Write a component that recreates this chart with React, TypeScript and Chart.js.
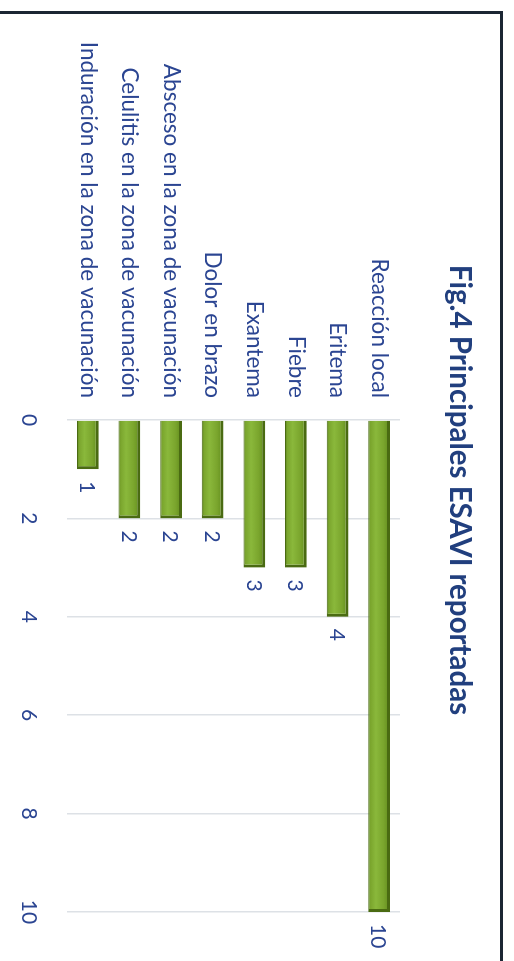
import React, { useEffect, useRef } from "react";
import { Chart, registerables } from "chart.js";

Chart.register(...registerables);

const categories = [
  "Reacción local",
  "Eritema",
  "Fiebre",
  "Exantema",
  "Dolor en brazo",
  "Absceso en la zona de vacunación",
  "Celulitis en la zona de vacunación",
  "Induración en la zona de vacunación",
];
const values = [10, 4, 3, 3, 2, 2, 2, 1];
const tickMin = 0;
const tickMax = 10;
const tickStep = 2;
const titleText = "Fig.4 Principales ESAVI reportadas";

const W = 961;
const H = 514;
const LABEL = "#2b4592";
const TITLE = "#213f7e";
const FONT = "Lato";

export default function App() {
  const ref = useRef<HTMLCanvasElement | null>(null);

  useEffect(() => {
    if (!ref.current) return;

    const valueLabels = {
      id: "valueLabels",
      afterDatasetsDraw(chart: any) {
        const ctx = chart.ctx;
        const meta = chart.getDatasetMeta(0);
        ctx.save();
        ctx.font = `21px ${FONT}`;
        ctx.fillStyle = LABEL;
        ctx.textAlign = "left";
        ctx.textBaseline = "middle";
        meta.data.forEach((bar: any, i: number) => {
          ctx.fillText(String(values[i]), bar.x + 12, bar.y + 1);
        });
        ctx.restore();
      },
    };

    const barFill = (c: any) => {
      const chart = c.chart;
      const yScale = chart.scales?.y;
      if (!yScale || c.dataIndex === undefined) return "#7ba62f";
      const yc = yScale.getPixelForValue(c.dataIndex);
      if (!Number.isFinite(yc)) return "#7ba62f";
      const g = chart.ctx.createLinearGradient(0, yc - 11, 0, yc + 11);
      g.addColorStop(0, "#5f8a1c");
      g.addColorStop(0.3, "#7aa52d");
      g.addColorStop(0.65, "#8ab83b");
      g.addColorStop(0.9, "#7aa52d");
      g.addColorStop(1, "#557a18");
      return g;
    };

    const chart = new Chart(ref.current, {
      type: "bar",
      data: {
        labels: categories,
        datasets: [
          {
            data: values,
            xAxisID: "x",
            yAxisID: "y",
            backgroundColor: barFill,
            borderColor: "#4a6b12",
            borderWidth: { top: 3, right: 3, bottom: 1, left: 0 },
            borderSkipped: false,
            categoryPercentage: 1,
            barPercentage: 0.52,
          },
        ],
      },
      plugins: [valueLabels],
      options: {
        indexAxis: "y",
        animation: false,
        responsive: false,
        devicePixelRatio: 1,
        layout: { padding: { left: 19, right: 0, top: 0, bottom: 0 } },
        plugins: {
          legend: { display: false },
          tooltip: { enabled: false },
          title: {
            display: true,
            text: titleText,
            color: TITLE,
            font: { family: FONT, size: 29.5, weight: "bold", lineHeight: 1.2 },
            padding: { top: 36.3, bottom: 42.3 },
          },
        },
        scales: {
          y: {
            type: "category",
            position: "left",
            grid: { display: false, drawTicks: false },
            border: { display: false },
            ticks: {
              color: LABEL,
              font: { family: FONT, size: 22.5 },
              padding: 22,
              autoSkip: false,
            },
            afterFit: (axis: any) => {
              axis.width = 401;
            },
          },
          yr: {
            type: "category",
            position: "right",
            display: true,
            grid: { display: false, drawTicks: false },
            border: { display: false },
            ticks: { display: false },
            afterFit: (axis: any) => {
              axis.width = 49;
            },
          },
          x: {
            type: "linear",
            position: "bottom",
            min: tickMin,
            max: tickMax,
            grid: {
              color: "#dde1e6",
              lineWidth: 1.5,
              drawTicks: false,
            },
            border: { display: false },
            ticks: {
              stepSize: tickStep,
              color: LABEL,
              font: { family: FONT, size: 21 },
              padding: 26,
            },
            afterFit: (axis: any) => {
              axis.height = 67;
            },
          },
        },
      },
    } as any);

    return () => chart.destroy();
  }, []);

  return (
    <div
      style={{
        position: "absolute",
        left: 0,
        top: 0,
        width: 514,
        height: 961,
        overflow: "hidden",
        background: "#ffffff",
      }}
    >
      <div
        style={{
          position: "absolute",
          left: 514,
          top: 0,
          width: W,
          height: H,
          transform: "rotate(90deg)",
          transformOrigin: "0 0",
        }}
      >
        <canvas
          ref={ref}
          width={W}
          height={H}
          style={{ width: W, height: H, display: "block" }}
        />
      </div>
      <div
        style={{
          position: "absolute",
          left: 0,
          top: 11,
          width: 503,
          height: 3,
          background: "#1b2633",
        }}
      />
      <div
        style={{
          position: "absolute",
          left: 500,
          top: 11,
          width: 3,
          height: 950,
          background: "#1b2633",
        }}
      />
    </div>
  );
}
